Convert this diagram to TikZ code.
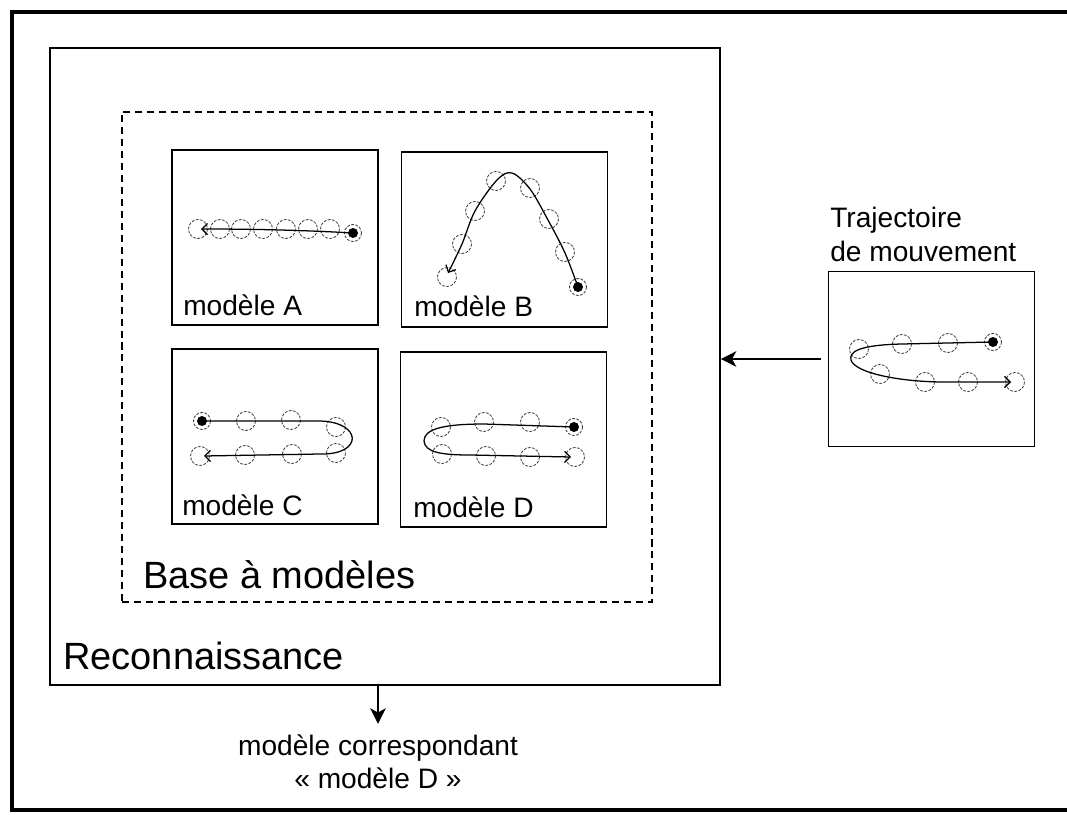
\documentclass[tikz,border=0pt]{standalone}
\usepackage{fontspec}
\setmainfont{Liberation Sans}
\usetikzlibrary{arrows.meta}

\tikzset{
  depart/.pic={
    \fill (0,0) circle[radius=5];
    \draw[spot] (0,0) circle[radius=8.5];
  }
}

\begin{document}
\begin{tikzpicture}[x=0.025cm, y=-0.025cm,
  panel/.style={draw, line width=1pt, minimum width=5.15cm, minimum height=4.375cm, inner sep=0},
  lbl/.style={font=\fontsize{20}{22}\selectfont, inner sep=0},
  biglbl/.style={font=\fontsize{27}{30}\selectfont, inner sep=0},
  spot/.style={draw=black!75, dash pattern=on 2pt off 1pt, line width=0.6pt},
  track/.style={line width=0.9pt, -{Straight Barb[length=4pt, width=8pt]}},
  conn/.style={line width=0.8pt, -{Stealth[length=11pt, width=11pt, inset=3pt]}}
]
\useasboundingbox (0,0) rectangle (1067,815);

% outer frame
\draw[line width=2.6pt] (1067,12) -- (12,12) -- (12,810) -- (1067,810);

% boxes
\node[draw, line width=1pt, minimum width=16.75cm, minimum height=15.925cm, inner sep=0] (reco) at (385,366.5) {};
\node[draw, dash pattern=on 5pt off 3.5pt, line width=0.9pt, minimum width=13.25cm, minimum height=12.25cm, inner sep=0] (base) at (387,357) {};

\node[panel] (mA) at (275,237.5) {};
\node[panel] (mB) at (504.5,239.5) {};
\node[panel] (mC) at (275,436.5) {};
\node[panel] (mD) at (503.5,439.5) {};
\node[panel] (mouv) at (931.5,359) {};

% labels
\node[lbl, anchor=base west] at (183,315) {modèle A};
\node[lbl, anchor=base west] at (414,316) {modèle B};
\node[lbl, anchor=base west] at (182,515) {modèle C};
\node[lbl, anchor=base west] at (413,517) {modèle D};
\node[biglbl, anchor=base west] at (143,588) {Base à modèles};
\node[biglbl, anchor=base west] at (63,669) {Reconnaissance};
\node[lbl, anchor=north west, align=left, font=\fontsize{20}{24}\selectfont] (titre) at (830,207) {Trajectoire\\de mouvement};
\node[lbl, anchor=north, align=center, font=\fontsize{20}{23}\selectfont] (res) at (378,735) {modèle correspondant\\« modèle D »};

% draw connectors
\draw[conn] ([xshift=-4.5pt]mouv.west) -- (reco.east |- mouv.west);
\draw[conn] (reco.south -| res.north) -- ([yshift=8pt]res.north);

% modele A
\foreach \x/\y in {198/229, 220/229, 241/229, 263/229, 286/229, 308/229, 330/229}
  \draw[spot] (\x,\y) circle[radius=9.5];
\pic at (353,233) {depart};
\draw[track] (353,233) .. controls (300,230) and (250,229) .. (201,229);

% modele B
\foreach \x/\y in {565/252, 549/219, 530/188, 496/181, 475/211, 462/244, 447/277}
  \draw[spot] (\x,\y) circle[radius=9.5];
\pic at (578,287) {depart};
\draw[track] plot[smooth, tension=0.55] coordinates {(578,287) (565,253) (548,220) (530,189) (512,173) (497,180) (475,211) (462,244) (448,273)};

% modele C
\foreach \x/\y in {246/421, 291/420, 336/427, 336/453, 292/454, 245/455, 200/456}
  \draw[spot] (\x,\y) circle[radius=9.5];
\pic at (202,421) {depart};
\draw[track] (202,421) -- (320,421) .. controls (362,422) and (364,455) .. (320,454) -- (204,456);

% modele D
\foreach \x/\y in {530/422, 484/422, 441/427, 442/454, 486/456, 530/457, 575/457}
  \draw[spot] (\x,\y) circle[radius=9.5];
\pic at (574,427) {depart};
\draw[track] (574,427) -- (484,424) .. controls (440,424) and (424,430) .. (424,441) .. controls (425,452) and (440,455) .. (470,455) -- (571,457);

% trajectoire a reconnaitre
\foreach \x/\y in {948/343, 902/344, 859/349, 880/374, 925/382, 968/382, 1015/382}
  \draw[spot] (\x,\y) circle[radius=9.5];
\pic at (993,342) {depart};
\draw[track] (993,342) -- (902,344) .. controls (858,345) and (849,352) .. (851,360) .. controls (855,373) and (900,382) .. (945,382) -- (1011,382);

\end{tikzpicture}
\end{document}
